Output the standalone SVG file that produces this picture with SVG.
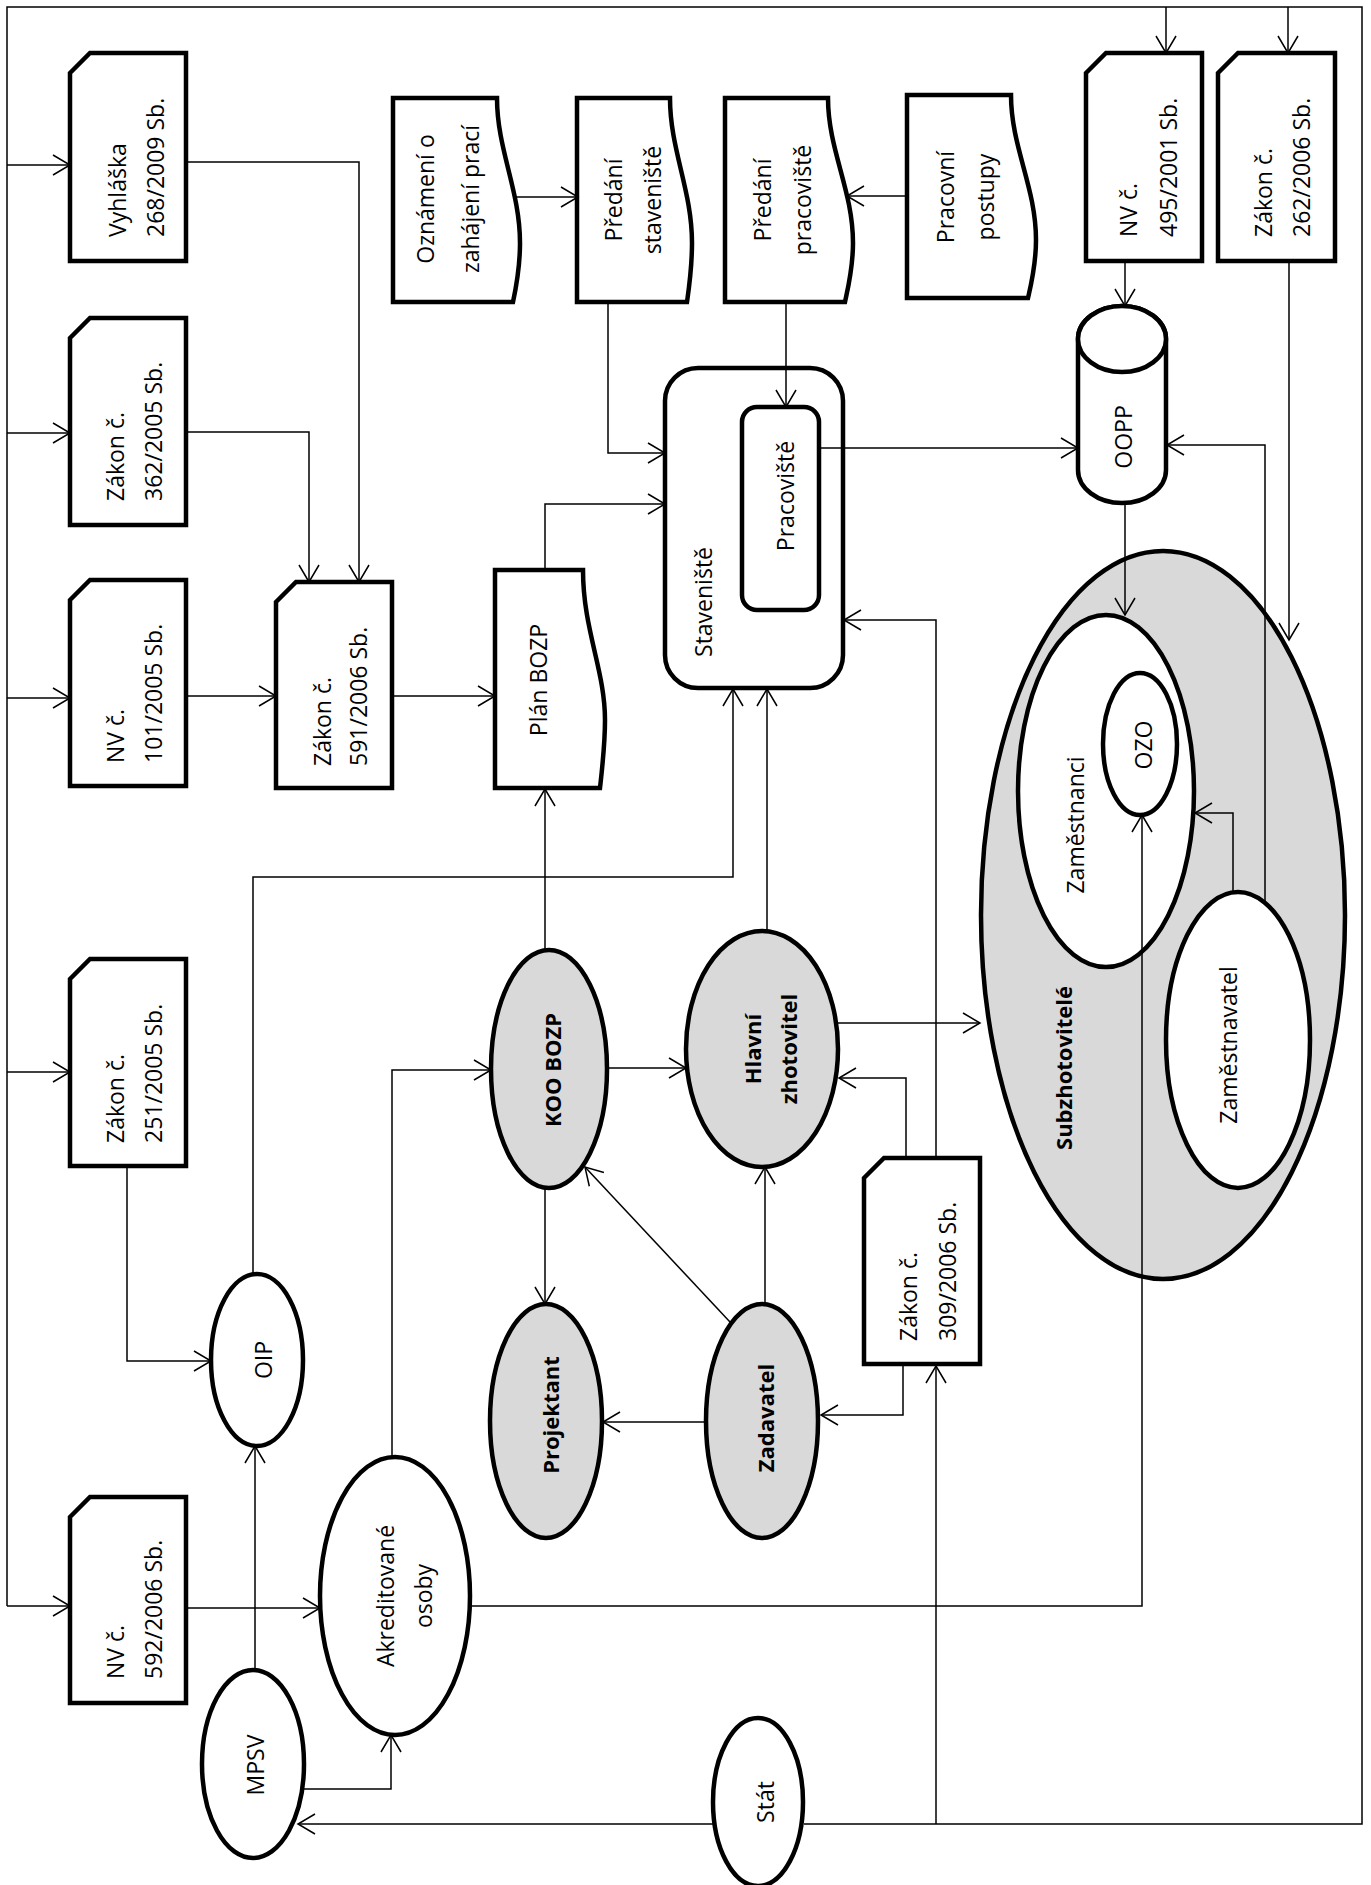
<svg xmlns="http://www.w3.org/2000/svg" width="1371" height="1885" viewBox="0 0 1371 1885">
<style>
.n{fill:#fff;stroke:#000;stroke-width:4.5;stroke-linejoin:miter}
.g{fill:#d9d9d9;stroke:#000;stroke-width:4.5}
.t{font-family:"Open Sans","Liberation Sans",sans-serif;font-size:23px;fill:#000}
.b{font-weight:bold;font-size:22px}
.m{text-anchor:middle}
.c{fill:none;stroke:#000;stroke-width:1.5}
.c path{marker-end:url(#a)}
.f{fill:none;stroke:#000;stroke-width:1.5}
</style>
<defs>
<marker id="a" markerUnits="userSpaceOnUse" markerWidth="20" markerHeight="22" viewBox="0 0 20 22" refX="18" refY="11" orient="auto"><path d="M1,1 L18,11 L1,21" fill="none" stroke="#000" stroke-width="1.5"/></marker>
</defs>
<rect width="1371" height="1885" fill="#fff"/>

<g id="vyhlaska268">
<path class="n" d="M70,73 L90,53 L186,53 L186,261 L70,261 Z"/>
<text class="t" dominant-baseline="central" transform="translate(117,237) rotate(-90)">Vyhláška</text>
<text class="t" dominant-baseline="central" transform="translate(155,237) rotate(-90)">268/2009 Sb.</text>
</g>
<g id="zakon362">
<path class="n" d="M70,338 L90,318 L186,318 L186,525 L70,525 Z"/>
<text class="t" dominant-baseline="central" transform="translate(115,501) rotate(-90)">Zákon č.</text>
<text class="t" dominant-baseline="central" transform="translate(153,501) rotate(-90)">362/2005 Sb.</text>
</g>
<g id="nv101">
<path class="n" d="M70,600 L90,580 L186,580 L186,786 L70,786 Z"/>
<text class="t" dominant-baseline="central" transform="translate(115,763) rotate(-90)">NV č.</text>
<text class="t" dominant-baseline="central" transform="translate(153,763) rotate(-90)">101/2005 Sb.</text>
</g>
<g id="zakon591">
<path class="n" d="M276,602 L296,582 L392,582 L392,788 L276,788 Z"/>
<text class="t" dominant-baseline="central" transform="translate(322,766) rotate(-90)">Zákon č.</text>
<text class="t" dominant-baseline="central" transform="translate(358,766) rotate(-90)">591/2006 Sb.</text>
</g>
<g id="zakon251">
<path class="n" d="M70,979 L90,959 L186,959 L186,1166 L70,1166 Z"/>
<text class="t" dominant-baseline="central" transform="translate(115,1143) rotate(-90)">Zákon č.</text>
<text class="t" dominant-baseline="central" transform="translate(153,1143) rotate(-90)">251/2005 Sb.</text>
</g>
<g id="nv592">
<path class="n" d="M70,1517 L90,1497 L186,1497 L186,1703 L70,1703 Z"/>
<text class="t" dominant-baseline="central" transform="translate(115,1679) rotate(-90)">NV č.</text>
<text class="t" dominant-baseline="central" transform="translate(153,1679) rotate(-90)">592/2006 Sb.</text>
</g>
<g id="nv495">
<path class="n" d="M1086,73 L1106,53 L1202,53 L1202,261 L1086,261 Z"/>
<text class="t" dominant-baseline="central" transform="translate(1128,237) rotate(-90)">NV č.</text>
<text class="t" dominant-baseline="central" transform="translate(1168,237) rotate(-90)">495/2001 Sb.</text>
</g>
<g id="zakon262">
<path class="n" d="M1218,73 L1238,53 L1335,53 L1335,261 L1218,261 Z"/>
<text class="t" dominant-baseline="central" transform="translate(1263,237) rotate(-90)">Zákon č.</text>
<text class="t" dominant-baseline="central" transform="translate(1301,237) rotate(-90)">262/2006 Sb.</text>
</g>
<g id="zakon309">
<path class="n" d="M864,1178 L884,1158 L980,1158 L980,1364 L864,1364 Z"/>
<text class="t" dominant-baseline="central" transform="translate(908,1341) rotate(-90)">Zákon č.</text>
<text class="t" dominant-baseline="central" transform="translate(947,1341) rotate(-90)">309/2006 Sb.</text>
</g>

<g id="oznameni">
<path class="n" d="M393,98 L497,98 C497,150 520,190 520,243 C520,268 516,288 513,302 L393,302 Z"/>
<text class="t m" dominant-baseline="central" transform="translate(425,199) rotate(-90)">Oznámení o</text>
<text class="t m" dominant-baseline="central" transform="translate(470,199) rotate(-90)">zahájení prací</text>
</g>
<g id="predani-staveniste">
<path class="n" d="M577,98 L670,98 C670,150 692,190 692,243 C692,268 689,288 687,302 L577,302 Z"/>
<text class="t m" dominant-baseline="central" transform="translate(613,200) rotate(-90)">Předání</text>
<text class="t m" dominant-baseline="central" transform="translate(652,200) rotate(-90)">staveniště</text>
</g>
<g id="predani-pracoviste">
<path class="n" d="M725,98 L828,98 C828,150 853,190 853,243 C853,268 848,288 845,302 L725,302 Z"/>
<text class="t m" dominant-baseline="central" transform="translate(762,200) rotate(-90)">Předání</text>
<text class="t m" dominant-baseline="central" transform="translate(802,200) rotate(-90)">pracoviště</text>
</g>
<g id="pracovni-postupy">
<path class="n" d="M907,95 L1011,95 C1011,147 1036,187 1036,240 C1036,265 1031,285 1028,298 L907,298 Z"/>
<text class="t m" dominant-baseline="central" transform="translate(945,197) rotate(-90)">Pracovní</text>
<text class="t m" dominant-baseline="central" transform="translate(985,197) rotate(-90)">postupy</text>
</g>
<g id="plan-bozp">
<path class="n" d="M495,570 L583,570 C583,630 605,670 605,720 C605,745 602,770 600,788 L495,788 Z"/>
<text class="t m" dominant-baseline="central" transform="translate(538,680) rotate(-90)">Plán BOZP</text>
</g>
<g id="staveniste">
<rect class="n" x="665" y="368" width="178" height="320" rx="33" ry="33"/>
<text class="t m" dominant-baseline="central" transform="translate(703,602) rotate(-90)">Staveniště</text>
</g>
<g id="pracoviste">
<rect class="n" x="742" y="407" width="77" height="203" rx="15" ry="15"/>
<text class="t m" dominant-baseline="central" transform="translate(785,496) rotate(-90)">Pracoviště</text>
</g>
<g id="oopp">
<path class="n" d="M1078,339 L1078,470 A44,33 0 0 0 1166,470 L1166,339 A44,33 0 0 0 1078,339 Z"/>
<ellipse class="n" cx="1122" cy="339" rx="44" ry="33"/>
<text class="t m" dominant-baseline="central" transform="translate(1123,437) rotate(-90)">OOPP</text>
</g>
<g id="subzhotovitele">
<ellipse class="g" cx="1163" cy="915" rx="182" ry="364"/>
<text class="t m b" dominant-baseline="central" transform="translate(1063,1068) rotate(-90)">Subzhotovitelé</text>
</g>
<g id="zamestnanci">
<ellipse class="n" cx="1106" cy="791" rx="88" ry="176"/>
<text class="t m" dominant-baseline="central" transform="translate(1075,825) rotate(-90)">Zaměstnanci</text>
</g>
<g id="ozo">
<ellipse class="n" cx="1140" cy="744" rx="37" ry="71"/>
<text class="t m" dominant-baseline="central" transform="translate(1143,745) rotate(-90)">OZO</text>
</g>
<g id="zamestnavatel">
<ellipse class="n" cx="1238" cy="1040" rx="72" ry="148"/>
<text class="t m" dominant-baseline="central" transform="translate(1228,1045) rotate(-90)">Zaměstnavatel</text>
</g>
<g id="koo-bozp">
<ellipse class="g" cx="549" cy="1069" rx="58" ry="119"/>
<text class="t m b" dominant-baseline="central" transform="translate(552,1070) rotate(-90)">KOO BOZP</text>
</g>
<g id="hlavni-zhotovitel">
<ellipse class="g" cx="762" cy="1049" rx="76" ry="118"/>
<text class="t m b" dominant-baseline="central" transform="translate(752,1049) rotate(-90)">Hlavní</text>
<text class="t m b" dominant-baseline="central" transform="translate(788,1049) rotate(-90)">zhotovitel</text>
</g>
<g id="projektant">
<ellipse class="g" cx="546" cy="1421" rx="56" ry="117"/>
<text class="t m b" dominant-baseline="central" transform="translate(550,1415) rotate(-90)">Projektant</text>
</g>
<g id="zadavatel">
<ellipse class="g" cx="762" cy="1421" rx="56" ry="117"/>
<text class="t m b" dominant-baseline="central" transform="translate(765,1418) rotate(-90)">Zadavatel</text>
</g>
<g id="oip">
<ellipse class="n" cx="257" cy="1360" rx="46" ry="86"/>
<text class="t m" dominant-baseline="central" transform="translate(263,1360) rotate(-90)">OIP</text>
</g>
<g id="akreditovane-osoby">
<ellipse class="n" cx="395" cy="1596" rx="75" ry="139"/>
<text class="t m" dominant-baseline="central" transform="translate(385,1596) rotate(-90)">Akreditované</text>
<text class="t m" dominant-baseline="central" transform="translate(423,1596) rotate(-90)">osoby</text>
</g>
<g id="mpsv">
<ellipse class="n" cx="253" cy="1764" rx="51" ry="94"/>
<text class="t m" dominant-baseline="central" transform="translate(255,1765) rotate(-90)">MPSV</text>
</g>
<g id="stat">
<ellipse class="n" cx="758" cy="1802" rx="45" ry="84"/>
<text class="t m" dominant-baseline="central" transform="translate(765,1802) rotate(-90)">Stát</text>
</g>

<g id="connectors" class="c">
<polyline class="f" points="7,1606 7,7 1362,7 1362,1824 804,1824"/>
<path d="M7,165 L70,165"/>
<path d="M7,433 L70,433"/>
<path d="M7,698 L70,698"/>
<path d="M7,1072 L70,1072"/>
<path d="M7,1606 L70,1606"/>
<path d="M1166,7 L1166,53"/>
<path d="M1288,7 L1288,53"/>
<path d="M936,1824 L936,1366"/>
<path d="M713,1824 L298,1824"/>
<path d="M186,162 L359,162 L359,582"/>
<path d="M186,432 L309,432 L309,582"/>
<path d="M186,696 L276,696"/>
<path d="M392,696 L495,696"/>
<path d="M545,570 L545,504 L665,504"/>
<path d="M516,197 L578,197"/>
<path d="M608,302 L608,453 L665,453"/>
<path d="M907,196 L847,196"/>
<path d="M786,302 L786,407"/>
<path d="M819,448 L1078,448"/>
<path d="M1125,261 L1125,306"/>
<path d="M1289,261 L1289,640"/>
<path d="M1125,503 L1125,615"/>
<path d="M1265,903 L1265,445 L1167,445"/>
<path d="M1233,892 L1233,813 L1195,813"/>
<path d="M470,1606 L1142,1606 L1142,815"/>
<path d="M127,1166 L127,1361 L211,1361"/>
<path d="M253,1274 L253,877 L733,877 L733,689"/>
<path d="M255,1670 L255,1446"/>
<path d="M304,1789 L391,1789 L391,1735"/>
<path d="M186,1608 L320,1608"/>
<path d="M392,1457 L392,1070 L491,1070"/>
<path d="M545,950 L545,789"/>
<path d="M607,1068 L686,1068"/>
<path d="M545,1188 L545,1304"/>
<path d="M730,1322 L585,1167"/>
<path d="M765,1304 L765,1167"/>
<path d="M706,1422 L603,1422"/>
<path d="M767,931 L767,689"/>
<path d="M838,1023 L980,1023"/>
<path d="M906,1158 L906,1078 L839,1078"/>
<path d="M936,1158 L936,620 L844,620"/>
<path d="M903,1364 L903,1415 L821,1415"/>
</g>
</svg>
